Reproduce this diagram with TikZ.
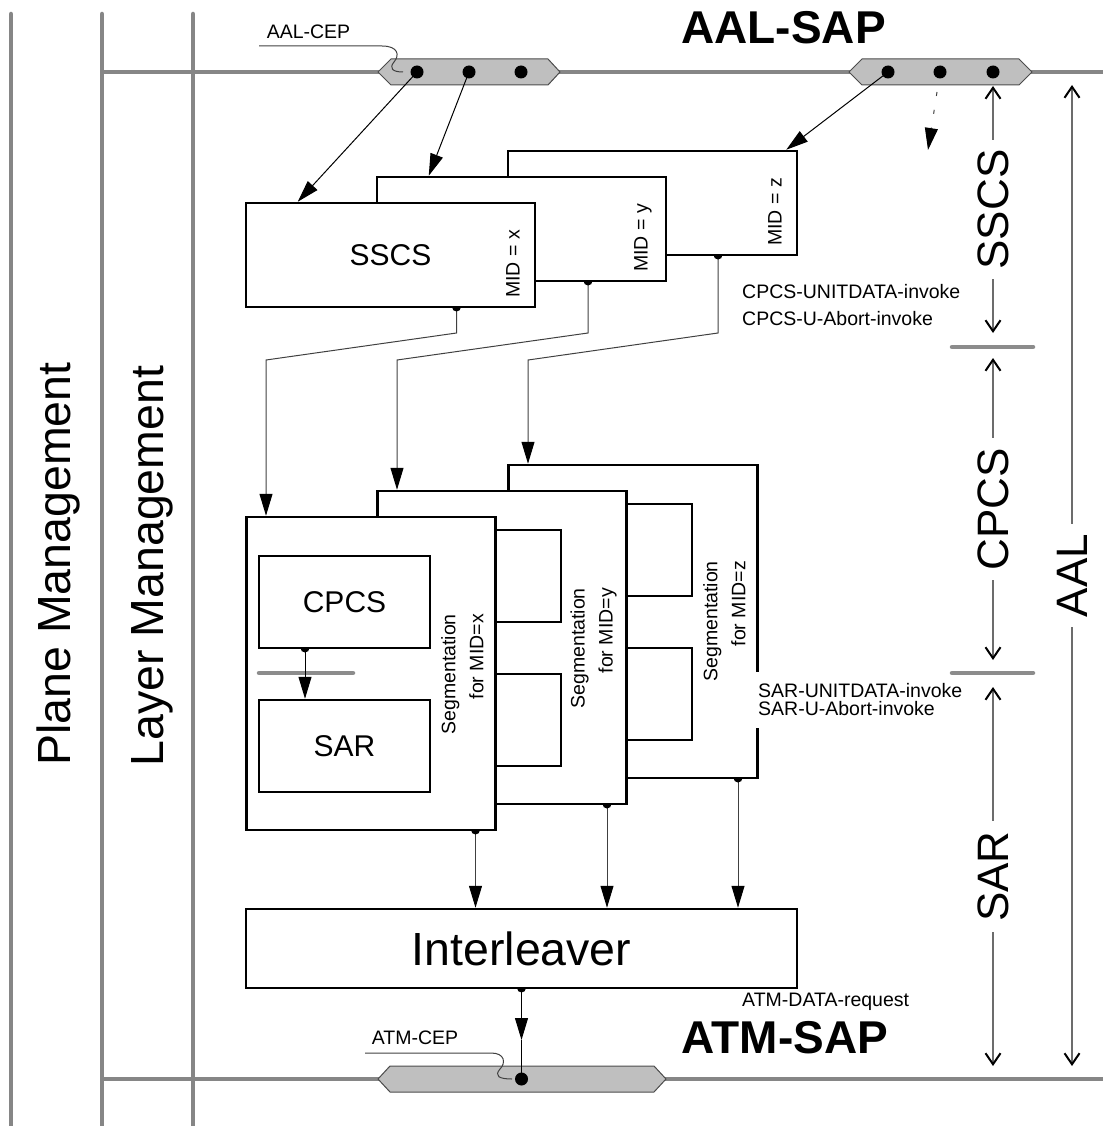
\documentclass[tikz,border=0pt]{standalone}
\usepackage{fontspec}
\setmainfont{Liberation Sans}
\usetikzlibrary{arrows.meta}
\newcommand\halfdot[1]{\fill (#1) ++(4.5pt,0) arc[start angle=0,end angle=-180,radius=4.5pt] -- cycle;}
\tikzset{
  gline/.style={draw=gray!95, line width=4.5pt},
  gbar/.style={draw=gray!90, line width=4.5pt, line cap=round},
  hexa/.style={fill=gray!50, draw=black!70, line width=1pt},
  boxx/.style={draw=black, line width=2.5pt, fill=white, inner sep=0pt},
  conn/.style={draw=black!75, line width=1pt},
  tri/.style={-{Triangle[length=22pt,width=13pt,color=black]}},
  dimarrow/.style={draw=gray!85!black, line width=1.2pt,
     {Straight Barb[length=11pt,width=15pt,line width=2pt,color=black]}-{Straight Barb[length=11pt,width=15pt,line width=2pt,color=black]}},
  fsmall/.style={font=\fontsize{19.5}{23}\selectfont},
  fmid/.style={font=\fontsize{30}{34}\selectfont},
  fbig/.style={font=\fontsize{44}{50}\selectfont},
  fhuge/.style={font=\fontsize{46.5}{52}\selectfont},
  fsap/.style={font=\fontsize{46}{52}\selectfont\bfseries},
  dimlab/.style={fbig, rotate=90, fill=white, inner xsep=10pt, inner ysep=1pt},
  midlab/.style={fsmall, rotate=90, anchor=west, inner sep=0pt},
  seglab/.style={font=\fontsize{19.5}{28}\selectfont, rotate=90, align=right, anchor=east, inner sep=0pt},
}
\begin{document}
\begin{tikzpicture}[x=1pt,y=-1pt]
\useasboundingbox (0,0) rectangle (1103,1126);

% management columns
\draw[gline, line cap=round] (11,14) -- (11,1130);
\draw[gline, line cap=round] (102,14) -- (102,1130);
\draw[gline, line cap=round] (193,14) -- (193,1130);
\draw[gline] (102,72) -- (1103,72);
\draw[gline] (102,1079) -- (1103,1079);
\node[fhuge, rotate=90, anchor=base] (pm) at (70,564) {Plane Management};
\node[fhuge, rotate=90, anchor=base] (lm) at (163,566) {Layer Management};

% SAP hexagons
\draw[hexa] (378,72) -- (391,59) -- (548,59) -- (560,72) -- (548,85) -- (391,85) -- cycle;
\draw[hexa] (849,72) -- (862,59) -- (1019,59) -- (1032,72) -- (1019,85) -- (862,85) -- cycle;
\draw[hexa] (378,1079) -- (390,1066) -- (654,1066) -- (666,1079) -- (654,1092) -- (390,1092) -- cycle;
\coordinate (a1) at (417,72);
\coordinate (a2) at (469,72);
\coordinate (a3) at (521,72);
\coordinate (b1) at (888,72);
\coordinate (b2) at (940,72);
\coordinate (b3) at (993,72);
\coordinate (c1) at (521.5,1079);
\foreach \p in {a1,a2,a3,b1,b2,b3,c1} \fill (\p) circle[radius=6.5pt];

\node[fsmall] (aalcep) at (308.5,32) {AAL-CEP};
\coordinate (l1s) at (259,46);
\coordinate (l1e) at (403,72);
\draw[conn] (l1s) -- (382,46) .. controls (398,46) and (400,55) .. (394,62) .. controls (389,68) and (392,72) .. (l1e);
\node[fsap] (aalsap) at (783.5,28) {AAL-SAP};

\node[fsmall] (atmcep) at (415,1038) {ATM-CEP};
\coordinate (l2s) at (365,1053);
\coordinate (l2e) at (512,1079);
\draw[conn] (l2s) -- (491,1053) .. controls (505,1053) and (506,1063) .. (500,1069) .. controls (494,1076) and (499,1079) .. (l2e);
\node[fsap] (atmsap) at (785,1038) {ATM-SAP};
\node[fsmall, anchor=west, inner sep=0pt] (atmreq) at (742,1002) {ATM-DATA-request};

% SSCS boxes
\node[boxx, minimum width=289pt, minimum height=104pt] (sz) at (652.5,203) {};
\node[midlab] (midz) at (775,246) {MID = z};
\node[boxx, minimum width=289pt, minimum height=104pt] (sy) at (521.5,229) {};
\node[midlab] (midy) at (643,272) {MID = y};
\node[boxx, fmid, minimum width=289pt, minimum height=104pt] (sx) at (390.5,255) {SSCS};
\node[midlab] (midx) at (513,298) {MID = x};

% segmentation boxes
\node[boxx, minimum width=249pt, minimum height=313pt] (gz) at (632.75,621.5) {};
\node[boxx, minimum width=171pt, minimum height=92pt] (gzc) at (606.5,550) {};
\node[boxx, minimum width=171pt, minimum height=92pt] (gzs) at (606.5,694) {};
\node[seglab] (segz) at (724.5,561) {Segmentation\\for MID=z};
\node[boxx, minimum width=249pt, minimum height=313pt] (gy) at (501.75,647.5) {};
\node[boxx, minimum width=171pt, minimum height=92pt] (gyc) at (475.5,576) {};
\node[boxx, minimum width=171pt, minimum height=92pt] (gys) at (475.5,720) {};
\node[seglab] (segy) at (593.5,588) {Segmentation\\for MID=y};
\node[boxx, minimum width=249pt, minimum height=313pt] (gx) at (370.75,673.5) {};
\node[boxx, fmid, minimum width=171pt, minimum height=92pt] (gxc) at (344.5,602) {CPCS};
\node[boxx, fmid, minimum width=171pt, minimum height=92pt] (gxs) at (344.5,746) {SAR};
\node[seglab] (segx) at (462.5,614) {Segmentation\\for MID=x};
\draw[gbar] (259,673) -- (353,673);
\coordinate (dcp) at (305,648);
\draw[conn, draw=black, tri] (dcp) -- (dcp |- gxs.north);
\halfdot{dcp}

% interleaver
\node[boxx, fhuge, minimum width=551pt, minimum height=79pt] (il) at (521.5,948.5) {Interleaver};

% connectors from SAP to SSCS
\draw[conn, draw=black, tri] (a1) -- ([xshift=53pt]sx.north west);
\draw[conn, draw=black, tri] (a2) -- ([xshift=53pt]sy.north west);
\draw[conn, draw=black, tri] (b1) -- ([xshift=-12pt]sz.north east);
\coordinate (dsh1) at (937,92);
\coordinate (dsh2) at (928,150);
\draw[conn, tri, dash pattern=on 4pt off 14pt] (dsh1) -- (dsh2);

% SSCS -> segmentation
\coordinate (dsx) at (456.5,307);
\coordinate (dsy) at (588,281);
\coordinate (dsz) at (718,255);
\coordinate (kx) at (266,360);
\coordinate (ky) at (397,360);
\coordinate (kz) at (528,360);
\draw[conn, tri] (dsx) -- (456.5,333) -- (kx) -- (kx |- gx.north);
\draw[conn, tri] (dsy) -- (588,333) -- (ky) -- (ky |- gy.north);
\draw[conn, tri] (dsz) -- (718,333) -- (kz) -- (kz |- gz.north);
\halfdot{dsx}
\halfdot{dsy}
\halfdot{dsz}

% segmentation -> interleaver
\coordinate (dgx) at (475.5,830);
\coordinate (dgy) at (607,804);
\coordinate (dgz) at (738,778);
\draw[conn, tri] (dgx) -- (dgx |- il.north);
\draw[conn, tri] (dgy) -- (dgy |- il.north);
\draw[conn, tri] (dgz) -- (dgz |- il.north);
\halfdot{dgx}
\halfdot{dgy}
\halfdot{dgz}

% interleaver -> ATM-SAP
\coordinate (dil) at (521.5,988);
\coordinate (amid) at (521.5,1040);
\draw[conn, draw=black, tri] (dil) -- (amid);
\draw[conn, draw=black] (amid) -- (c1);
\halfdot{dil}

% primitive labels
\node[fsmall, align=left, anchor=west, inner sep=0pt, font=\fontsize{19.5}{27}\selectfont] (cpcsinv) at (742,305.5) {CPCS-UNITDATA-invoke\\CPCS-U-Abort-invoke};
\node[fsmall, align=left, anchor=west, fill=white, inner xsep=3pt, inner ysep=12pt, font=\fontsize{19.5}{18}\selectfont] (sarinv) at (755,700) {SAR-UNITDATA-invoke\\SAR-U-Abort-invoke};

% right-hand dimensions
\coordinate (ssT) at (993,86);
\coordinate (ssB) at (993,333);
\coordinate (cpT) at (993,358);
\coordinate (cpB) at (993,660);
\coordinate (saT) at (993,687);
\coordinate (saB) at (993,1066);
\coordinate (alT) at (1072,85);
\coordinate (alB) at (1072,1066);
\draw[dimarrow] (ssT) -- node[dimlab] (lsscs) {SSCS} (ssB);
\draw[dimarrow] (cpT) -- node[dimlab] (lcpcs) {CPCS} (cpB);
\draw[dimarrow] (saT) -- node[dimlab] (lsar) {SAR} (saB);
\draw[dimarrow] (alT) -- node[dimlab] (laal) {AAL} (alB);
\draw[gbar] (952,347) -- (1033,347);
\draw[gbar] (952,673) -- (1033,673);
\end{tikzpicture}
\end{document}
